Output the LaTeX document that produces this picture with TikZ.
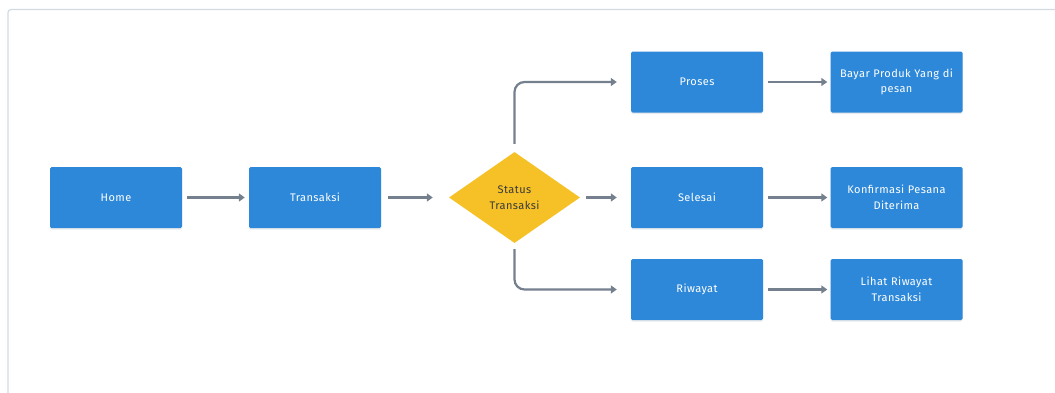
\documentclass[tikz,border=0pt]{standalone}
\usepackage{fontspec}
\setmainfont{Fira Sans}[LetterSpace=4]
\usetikzlibrary{shapes.geometric,arrows.meta,shadows}
\definecolor{boxblue}{HTML}{2D88D9}
\definecolor{diayellow}{HTML}{F6C127}
\definecolor{arrowgray}{HTML}{74808D}
\definecolor{framegray}{HTML}{D3DAE1}
\definecolor{shadowgray}{HTML}{E4E7EA}
\definecolor{diatext}{HTML}{3A3A3A}
\tikzset{
  box/.style={draw=none, fill=boxblue, rounded corners=1.5pt, minimum width=132pt, minimum height=61pt,
    text width=125pt, align=center, text=white, font=\fontsize{11}{15.5}\selectfont,
    drop shadow={shadow xshift=0pt, shadow yshift=-1.5pt, fill=shadowgray, opacity=0.8}},
  dia/.style={diamond, fill=diayellow, minimum width=131pt, minimum height=91pt, inner sep=0pt, aspect=1.44},
  dlabel/.style={align=center, text=diatext, font=\fontsize{11}{16}\selectfont},
  conn/.style={draw=arrowgray, line width=2.2pt, -{Triangle[length=6pt,width=8pt]}, rounded corners=10pt},
}
\begin{document}
\begin{tikzpicture}[x=1pt,y=-1pt]
\useasboundingbox (0,0) rectangle (1055,392);
\draw[framegray, line width=1.2pt, rounded corners=3pt] (8,400) -- (8,9.5) -- (1060,9.5);
\node[box] (home) at (116,197.5) {Home};
\node[box] (trans) at (315,197.5) {Transaksi};
\node[dia] (stat) at (514.5,197.5) {};
\node[dlabel] (statlbl) at (514.5,197.5) {Status\\Transaksi};
\node[box] (proses) at (697,82) {Proses};
\node[box] (bayar) at (896.5,82) {Bayar Produk Yang di\\pesan};
\node[box] (selesai) at (697,197.5) {Selesai};
\node[box] (konf) at (896.5,197.5) {Konfirmasi Pesana\\Diterima};
\node[box] (riw) at (697,289.5) {Riwayat};
\node[box] (lihat) at (896.5,289.5) {Lihat Riwayat\\Transaksi};
\draw[conn] ([xshift=5pt]home.east) -- ([xshift=-4pt]trans.west);
\draw[conn] ([xshift=7pt]trans.east) -- ([xshift=-16pt]stat.west);
\draw[conn] ([yshift=8pt]stat.north) |- ([xshift=-14pt]proses.west);
\draw[conn] ([xshift=6pt]stat.east) -- ([xshift=-14pt]selesai.west);
\draw[conn] ([yshift=-6pt]stat.south) |- ([xshift=-14pt]riw.west);
\draw[conn] ([xshift=5pt]proses.east) -- ([xshift=-3pt]bayar.west);
\draw[conn] ([xshift=5pt]selesai.east) -- ([xshift=-3pt]konf.west);
\draw[conn] ([xshift=5pt]riw.east) -- ([xshift=-3pt]lihat.west);
\end{tikzpicture}
\end{document}
